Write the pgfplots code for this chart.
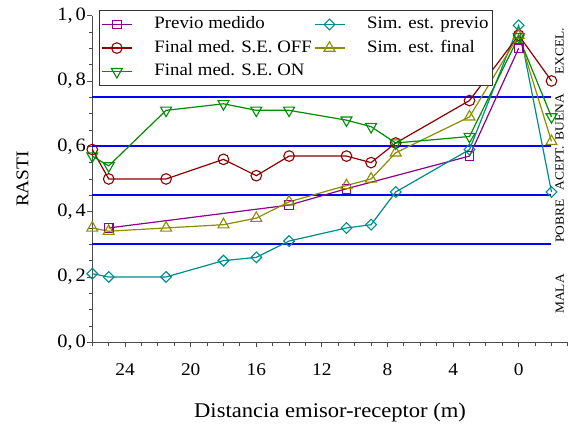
\documentclass[border=0pt]{standalone}
\usepackage{fontspec}
\setmainfont{Liberation Serif}[FakeStretch=1.08]
\usepackage{pgfplots}
\pgfplotsset{compat=1.18}
\definecolor{cPur}{RGB}{140,0,140}
\definecolor{cRed}{RGB}{140,0,0}
\definecolor{cGrn}{RGB}{0,140,0}
\definecolor{cTea}{RGB}{0,140,140}
\definecolor{cOli}{RGB}{140,140,0}
\definecolor{cBlu}{RGB}{0,0,255}
\begin{document}
\begin{tikzpicture}
\begin{axis}[
  scale only axis, width=475.6bp, height=326.7bp,
  xmin=-3, xmax=26, ymin=0, ymax=1, x dir=reverse,
  axis x line=bottom, axis y line=left,
  axis line style={-, black!70, line width=0.8bp},
  xtick={0,4,...,24}, minor xtick={-3,-2,...,26},
  ytick={0,0.2,0.4,0.6,0.8,1.0}, minor y tick num=3,
  tick align=outside, major tick length=5bp, minor tick length=3.5bp,
  every tick/.style={black!70, line width=0.8bp},
  font=\fontsize{18}{21}\selectfont,
  /pgf/number format/assume math mode=true,
  yticklabel style={font=\fontsize{19}{22}\selectfont, /pgf/number format/.cd, fixed, fixed zerofill, precision=1, set decimal separator={,\hspace{0.15em}}, /tikz/.cd, xshift=2bp},
  xticklabel style={yshift=-13bp},
  every axis y label/.style={at={([xshift=-69.8bp]axis description cs:0,0.5)}, rotate=90, anchor=center},
  every axis x label/.style={at={([yshift=-70bp]axis description cs:0.5,0)}, anchor=center, font=\fontsize{21}{24}\selectfont},
  xlabel={Distancia emisor-receptor (m)},
  ylabel={RASTI},
  clip=false,
  legend columns=2,
  legend cell align=left,
  legend style={at={(0.014,1.016)}, anchor=north west, draw=black!80, line width=0.6bp,
    inner sep=2bp, row sep=0pt, font=\fontsize{17.5}{20}\selectfont,
    nodes={inner xsep=2bp, inner ysep=3bp, text height=13bp, text depth=4.6bp},
    /tikz/every odd column/.append style={column sep=20bp},
    /tikz/every even column/.append style={column sep=0bp}},
  legend image code/.code={\draw[mark repeat=2, mark phase=2] plot coordinates {(0bp,0bp) (15bp,0bp) (30bp,0bp)};},
  every axis plot/.append style={line width=1.2bp},
]
\coordinate (BL) at (axis description cs:0,0);
% reference lines
\addplot[draw=cBlu, line width=1.8bp, forget plot] coordinates {(26,0.75) (-2,0.75)};
\addplot[draw=cBlu, line width=1.8bp, forget plot] coordinates {(26,0.60) (-2,0.60)};
\addplot[draw=cBlu, line width=1.8bp, forget plot] coordinates {(26,0.45) (-2,0.45)};
\addplot[draw=cBlu, line width=1.8bp, forget plot] coordinates {(26,0.30) (-2,0.30)};
% Previo medido
\addplot[cPur, mark=square, mark size=4.3bp, mark options={fill=white, solid, line width=1.1bp}]
  coordinates {(25,0.35) (14,0.42) (10.5,0.47) (3,0.57) (0,0.90)};
\addlegendentry{Previo medido}
% Sim. est. previo
\addplot[cTea, mark=square, mark size=3.8bp, mark options={rotate=45, fill=white, solid, line width=1.1bp}]
  coordinates {(26,0.21) (25,0.20) (21.5,0.20) (18,0.25) (16,0.26) (14,0.31) (10.5,0.35) (9,0.36) (7.5,0.46) (3,0.59) (0,0.97) (-2,0.46)};
\addlegendentry{Sim. est. previo}
% Final med. S.E. OFF
\addplot[cRed, mark=o, mark size=5.3bp, mark options={fill=white, solid, line width=1.1bp}]
  coordinates {(26,0.59) (25,0.50) (21.5,0.50) (18,0.56) (16,0.51) (14,0.57) (10.5,0.57) (9,0.55) (7.5,0.61) (3,0.74) (0,0.94) (-2,0.80)};
\addlegendentry{Final med. S.E. OFF}
% Sim. est. final
\addplot[cOli, mark=triangle, mark size=6.3bp, mark options={fill=white, solid, line width=1.1bp}]
  coordinates {(26,0.35) (25,0.34) (21.5,0.35) (18,0.36) (16,0.38) (14,0.43) (10.5,0.48) (9,0.50) (7.5,0.58) (3,0.69) (0,0.94) (-2,0.615)};
\addlegendentry{Sim. est. final}
% Final med. S.E. ON
\addplot[cGrn, mark=triangle, mark size=6.3bp, mark options={rotate=180, fill=white, solid, line width=1.1bp}]
  coordinates {(26,0.57) (25,0.54) (21.5,0.71) (18,0.73) (16,0.71) (14,0.71) (10.5,0.68) (9,0.66) (7.5,0.61) (3,0.63) (0,0.935) (-2,0.69)};
\addlegendentry{Final med. S.E. ON}
% category labels
\node[rotate=90, font=\fontsize{12.5}{15}\selectfont] at (axis cs:-2.5,0.89) {EXCEL.};
\node[rotate=90, font=\fontsize{12.5}{15}\selectfont] at (axis cs:-2.5,0.69) {BUENA};
\node[rotate=90, font=\fontsize{12.5}{15}\selectfont] at (axis cs:-2.5,0.533) {ACEPT.};
\node[rotate=90, font=\fontsize{12.5}{15}\selectfont] at (axis cs:-2.5,0.371) {POBRE};
\node[rotate=90, font=\fontsize{12.5}{15}\selectfont] at (axis cs:-2.5,0.148) {MALA};
\end{axis}
\pgfresetboundingbox
\path ([shift={(-92.3bp,-83.7bp)}]BL) rectangle ([shift={(475.7bp,342.3bp)}]BL);
\end{tikzpicture}
\end{document}
